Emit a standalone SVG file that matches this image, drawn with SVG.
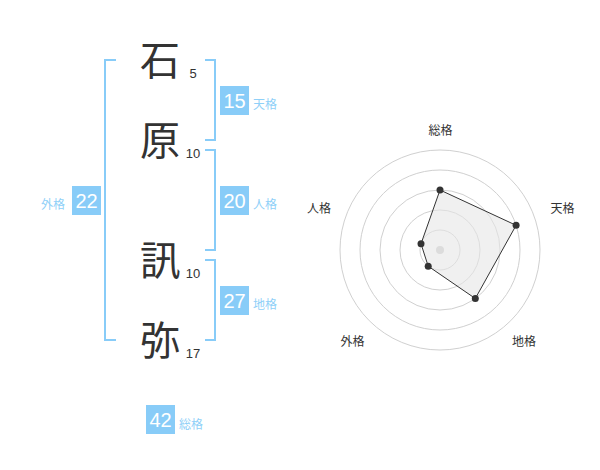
<svg xmlns="http://www.w3.org/2000/svg" width="600" height="470" viewBox="0 0 600 470">
<style>
.ch{font-family:"Noto Sans CJK JP","Noto Sans CJK SC",sans-serif;font-size:40px;fill:#333;text-anchor:middle}
.sn{font-family:"Liberation Sans",Arial,sans-serif;font-size:13px;fill:#333;text-anchor:middle}
.br{fill:none;stroke:#88ccf8;stroke-width:2}
.box{fill:#88ccf8}
.bn{font-family:"Liberation Sans",Arial,sans-serif;font-size:20px;fill:#fff;text-anchor:middle}
.lb{font-family:"Noto Sans CJK JP","Noto Sans CJK SC",sans-serif;font-size:12px;fill:#8fd0f8}
.ring{fill:none;stroke:#d0d0d0;stroke-width:1}
.rl{font-family:"Noto Sans CJK JP","Noto Sans CJK SC",sans-serif;font-size:12px;fill:#333;text-anchor:middle}
.pt{fill:#333}
</style>
<rect width="600" height="470" fill="#fff"/>
<g id="connectors">
<path class="br" d="M116,60 H105 V340 H116"/>
<path class="br" d="M205,60 H215 V140 H205"/>
<path class="br" d="M205,150 H215 V250 H205"/>
<path class="br" d="M205,260 H215 V340 H205"/>
</g>
<g id="char-1"><text class="ch" x="160" y="75">石</text><text class="sn" x="193" y="78">5</text></g>
<g id="char-2"><text class="ch" x="160" y="155">原</text><text class="sn" x="193" y="158">10</text></g>
<g id="char-3"><text class="ch" x="160" y="275">訊</text><text class="sn" x="193" y="278">10</text></g>
<g id="char-4"><text class="ch" x="160" y="355">弥</text><text class="sn" x="193" y="358">17</text></g>
<g id="tenkaku"><rect class="box" x="220" y="86" width="29" height="29"/><text class="bn" x="234.5" y="108">15</text><text class="lb" x="253" y="109">天格</text></g>
<g id="jinkaku"><rect class="box" x="220" y="186" width="29" height="29"/><text class="bn" x="234.5" y="208">20</text><text class="lb" x="253" y="209">人格</text></g>
<g id="chikaku"><rect class="box" x="220" y="286" width="29" height="29"/><text class="bn" x="234.5" y="308">27</text><text class="lb" x="253" y="309">地格</text></g>
<g id="gaikaku"><rect class="box" x="72" y="186" width="29" height="29"/><text class="bn" x="86.5" y="208">22</text><text class="lb" x="65" y="209" text-anchor="end">外格</text></g>
<g id="soukaku"><rect class="box" x="146" y="405" width="29" height="29"/><text class="bn" x="160.5" y="427">42</text><text class="lb" x="179" y="429">総格</text></g>
<g id="radar">
<circle class="ring" cx="440" cy="250" r="20"/>
<circle class="ring" cx="440" cy="250" r="40"/>
<circle class="ring" cx="440" cy="250" r="60"/>
<circle class="ring" cx="440" cy="250" r="80"/>
<circle class="ring" cx="440" cy="250" r="100"/>
<circle cx="440" cy="250" r="4" fill="#cccccc"/>
<polygon points="440,190 516.1,225.3 475.3,298.5 428.2,266.2 421,243.8" fill="#e6e6e6" fill-opacity="0.6" stroke="#333" stroke-width="1"/>
<circle class="pt" cx="440" cy="190" r="3.5"/>
<circle class="pt" cx="516.1" cy="225.3" r="3.5"/>
<circle class="pt" cx="475.3" cy="298.5" r="3.5"/>
<circle class="pt" cx="428.2" cy="266.2" r="3.5"/>
<circle class="pt" cx="421" cy="243.8" r="3.5"/>
<text class="rl" x="440.5" y="135">総格</text>
<text class="rl" x="562.5" y="213">天格</text>
<text class="rl" x="524" y="346">地格</text>
<text class="rl" x="352.5" y="346">外格</text>
<text class="rl" x="319" y="213">人格</text>
</g>
</svg>
